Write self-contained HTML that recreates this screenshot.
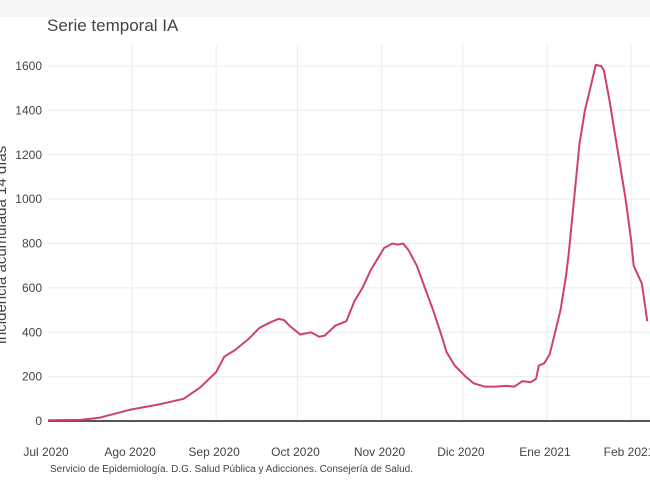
<!DOCTYPE html>
<html><head><meta charset="utf-8"><style>
body{margin:0;background:#fff;font-family:"Liberation Sans",sans-serif;}
</style></head><body>
<svg width="650" height="487" xmlns="http://www.w3.org/2000/svg" font-family="Liberation Sans, sans-serif">
<rect x="0" y="0" width="650" height="17" fill="#f5f5f5"/>
<text x="47" y="31" font-size="17" fill="#444">Serie temporal IA</text>
<g id="grid"></g>
<g id="axes"></g>
<path id="line" fill="none" stroke="#d0406c" stroke-width="2" stroke-linejoin="round"/>
<text transform="translate(6,245) rotate(-90)" text-anchor="middle" font-size="15" fill="#444">Incidencia acumulada 14 días</text>
<text x="50" y="472" font-size="10" fill="#444">Servicio de Epidemiología. D.G. Salud Pública y Adicciones. Consejería de Salud.</text>
</svg>
<script>
const days=[0,12,19,30,41,50,56,62,65,69,74,78,82,85,87,89,93,97,100,102,106,110,113,116,119,122,124,127,129,131,133,136,139,142,145,147,150,154,157,161,165,169,172,175,178,180,181,183,185,187,189,191,192,194,196,198,200,202,204,205,207,209,211,213,215,216,219,221];
const values=[3,5,15,50,75,100,150,220,290,320,370,420,445,460,455,430,390,400,380,385,430,450,540,600,680,740,780,800,795,800,770,700,600,500,390,310,250,200,170,155,155,158,155,180,175,190,250,260,300,400,500,650,750,1000,1250,1400,1500,1605,1600,1580,1450,1300,1150,1000,820,700,620,450];
const yTicks=[0,200,400,600,800,1000,1200,1400,1600];
const monthLabels=["Jul 2020","Ago 2020","Sep 2020","Oct 2020","Nov 2020","Dic 2020","Ene 2021","Feb 2021"];
const monthDays=[0,31,62,92,123,153,184,215];
const NS="http://www.w3.org/2000/svg";
const x=d=>48+d*(631-48)/215;
const y=v=>421-v*355/1600;
const grid=document.getElementById('grid'),axes=document.getElementById('axes');
function mk(tag,attrs,parent){const e=document.createElementNS(NS,tag);for(const k in attrs)e.setAttribute(k,attrs[k]);parent.appendChild(e);return e;}
yTicks.forEach(t=>{
  const l=mk('line',{x1:48,x2:650,y1:y(t),y2:y(t),stroke:'#ebebeb'},grid);
  
  
  const tx=mk('text',{x:42,y:y(t)+4,'text-anchor':'end','font-size':12,fill:'#444'},axes);
  tx.textContent=t;
  
  
});
monthDays.forEach((d,i)=>{
  if(i>0){const l=mk('line',{x1:x(d),x2:x(d),y1:45,y2:421,stroke:'#ebebeb'},grid);
  
  }
  const tx=mk('text',{x:x(d)-2,y:456,'text-anchor':'middle','font-size':12,fill:'#444'},axes);
  tx.textContent=monthLabels[i];
  
  
});
const z=mk('line',{x1:48,x2:650,y1:y(0),y2:y(0),stroke:'#555','stroke-width':2},axes);


document.getElementById('line').setAttribute('d',days.map((d,i)=>(i?'L':'M')+x(d).toFixed(1)+','+y(values[i]).toFixed(1)).join(''));
</script>
</body></html>
